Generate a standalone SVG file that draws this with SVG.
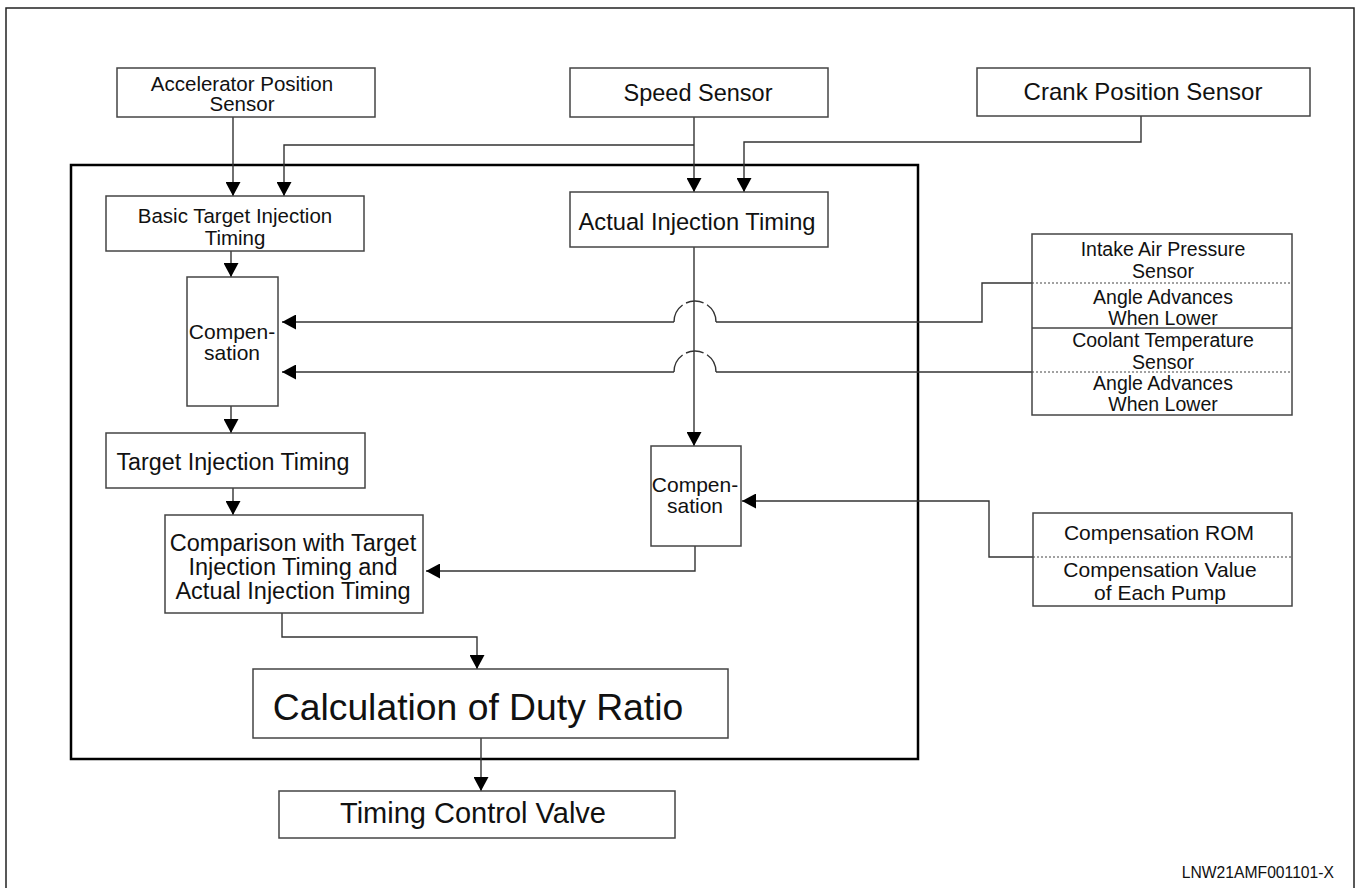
<svg xmlns="http://www.w3.org/2000/svg" width="1361" height="888" viewBox="0 0 1361 888">
  <style>
    .box { fill: #fff; stroke: #444; stroke-width: 1.5; }
    .frame { fill: none; stroke: #000; stroke-width: 2.5; }
    .border { fill: none; stroke: #222; stroke-width: 1.5; }
    .wire { fill: none; stroke: #333; stroke-width: 1.4; }
    .div-dot { stroke: #444; stroke-width: 1.2; stroke-dasharray: 2 2; }
    .div { stroke: #444; stroke-width: 1.5; }
    .jump { fill: none; stroke: #333; stroke-width: 1.4; stroke-dasharray: 20 4 18 4 30; }
    text { font-family: "Liberation Sans", Arial, sans-serif; fill: #111; text-anchor: middle; }
  </style>
  <defs>
    <marker id="arrow" viewBox="0 0 14 15" refX="14" refY="7.5" markerWidth="14" markerHeight="15" markerUnits="userSpaceOnUse" orient="auto">
      <path d="M0,0 L14,7.5 L0,15 z" fill="#000"/>
    </marker>
  </defs>

  <rect width="1361" height="888" fill="#fff"/>
  <!-- sheet border -->
  <rect class="border" x="6" y="8" width="1348" height="884"/>
  <!-- control unit frame -->
  <rect class="frame" x="71" y="165" width="847" height="594"/>

  <!-- connectors -->
  <g id="connectors">
    <path class="wire" d="M233,117 V196" marker-end="url(#arrow)"/>
    <path class="wire" d="M694,145 H284 V196" marker-end="url(#arrow)"/>
    <path class="wire" d="M694,117 V192" marker-end="url(#arrow)"/>
    <path class="wire" d="M1141,116 V142 H744 V192" marker-end="url(#arrow)"/>
    <path class="wire" d="M231,251 V277" marker-end="url(#arrow)"/>
    <path class="wire" d="M694,247 V446" marker-end="url(#arrow)"/>
    <!-- intake air pressure line, hopping over the vertical -->
    <path class="wire" d="M1032,283 H982 V322 H716"/>
    <path class="jump" d="M716,322 A21,21 0 0 0 674,322"/>
    <path class="wire" d="M674,322 H282" marker-end="url(#arrow)"/>
    <!-- coolant temperature line, hopping over the vertical -->
    <path class="wire" d="M1032,372 H716"/>
    <path class="jump" d="M716,372 A21,21 0 0 0 674,372"/>
    <path class="wire" d="M674,372 H282" marker-end="url(#arrow)"/>
    <path class="wire" d="M231,406 V433" marker-end="url(#arrow)"/>
    <path class="wire" d="M233,488 V515" marker-end="url(#arrow)"/>
    <path class="wire" d="M1033,557 H989 V501 H742" marker-end="url(#arrow)"/>
    <path class="wire" d="M695,546 V571 H426" marker-end="url(#arrow)"/>
    <path class="wire" d="M282,613 V637 H477 V669" marker-end="url(#arrow)"/>
    <path class="wire" d="M481,738 V791" marker-end="url(#arrow)"/>
  </g>

  <g id="accelerator-sensor">
    <rect class="box" x="117" y="68" width="258" height="49"/>
    <text x="242" y="90.5" font-size="20.5">Accelerator Position</text>
    <text x="242" y="111" font-size="20.5">Sensor</text>
  </g>

  <g id="speed-sensor">
    <rect class="box" x="570" y="68" width="258" height="49"/>
    <text x="698" y="101" font-size="23.5">Speed Sensor</text>
  </g>

  <g id="crank-sensor">
    <rect class="box" x="977" y="68" width="333" height="48"/>
    <text x="1143" y="100" font-size="24">Crank Position Sensor</text>
  </g>

  <g id="basic-target">
    <rect class="box" x="106" y="196" width="258" height="55"/>
    <text x="235" y="223" font-size="20.5">Basic Target Injection</text>
    <text x="235" y="245" font-size="20.5">Timing</text>
  </g>

  <g id="actual-timing">
    <rect class="box" x="570" y="192" width="258" height="55"/>
    <text x="697" y="230" font-size="23.7">Actual Injection Timing</text>
  </g>

  <g id="compensation-1">
    <rect class="box" x="187" y="277" width="91" height="129"/>
    <text x="232" y="339" font-size="21">Compen-</text>
    <text x="232" y="360" font-size="21">sation</text>
  </g>

  <g id="sensor-table">
    <rect class="box" x="1032" y="234" width="260" height="181"/>
    <line class="div-dot" x1="1032" y1="283" x2="1292" y2="283"/>
    <line class="div" x1="1032" y1="328" x2="1292" y2="328"/>
    <line class="div-dot" x1="1032" y1="372" x2="1292" y2="372"/>
    <text x="1163" y="256" font-size="19.5">Intake Air Pressure</text>
    <text x="1163" y="277.5" font-size="19.5">Sensor</text>
    <text x="1163" y="304" font-size="19.5">Angle Advances</text>
    <text x="1163" y="325" font-size="19.5">When Lower</text>
    <text x="1163" y="347" font-size="19.5">Coolant Temperature</text>
    <text x="1163" y="368.5" font-size="19.5">Sensor</text>
    <text x="1163" y="390" font-size="19.5">Angle Advances</text>
    <text x="1163" y="411" font-size="19.5">When Lower</text>
  </g>

  <g id="target-timing">
    <rect class="box" x="106" y="433" width="259" height="55"/>
    <text x="233" y="470" font-size="23.3">Target Injection Timing</text>
  </g>

  <g id="compensation-2">
    <rect class="box" x="651" y="446" width="90" height="100"/>
    <text x="695" y="492" font-size="21">Compen-</text>
    <text x="695" y="513" font-size="21">sation</text>
  </g>

  <g id="comparison">
    <rect class="box" x="165" y="515" width="258" height="98"/>
    <text x="293" y="551" font-size="23.5">Comparison with Target</text>
    <text x="293" y="575" font-size="23.5">Injection Timing and</text>
    <text x="293" y="599" font-size="23.5">Actual Injection Timing</text>
  </g>

  <g id="compensation-rom">
    <rect class="box" x="1033" y="513" width="259" height="93"/>
    <line class="div-dot" x1="1033" y1="557" x2="1292" y2="557"/>
    <text x="1159" y="540" font-size="21">Compensation ROM</text>
    <text x="1160" y="577" font-size="21">Compensation Value</text>
    <text x="1160" y="600" font-size="21">of Each Pump</text>
  </g>

  <g id="duty-ratio">
    <rect class="box" x="253" y="669" width="475" height="69"/>
    <text x="478" y="720" font-size="37.3">Calculation of Duty Ratio</text>
  </g>

  <g id="timing-valve">
    <rect class="box" x="279" y="791" width="396" height="47"/>
    <text x="473" y="823" font-size="29">Timing Control Valve</text>
  </g>

  <text x="1334" y="878" font-size="15.7" style="text-anchor:end">LNW21AMF001101-X</text>
</svg>
